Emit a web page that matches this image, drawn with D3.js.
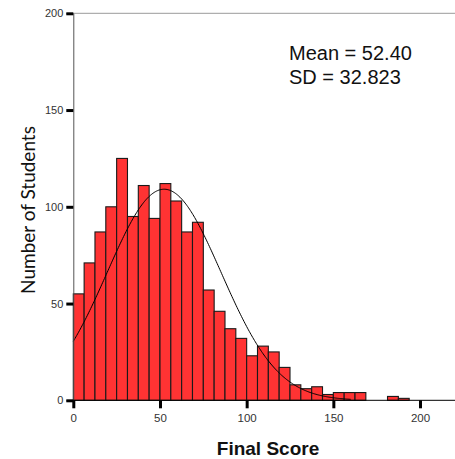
<!DOCTYPE html>
<html>
<head>
<meta charset="utf-8">
<script src="https://cdn.jsdelivr.net/npm/d3@7"></script>
<style>
  html, body { margin: 0; padding: 0; background: #fff; }
  svg { display: block; }
</style>
</head>
<body>
<svg id="chart" width="455" height="459"></svg>
<script>
// Histogram of final scores, bins of 6.25 points starting at 0
const binWidth = 6.25;
const counts = [55, 71, 87, 100, 125, 95, 111, 94, 112, 103, 87, 92, 57, 46, 37, 32,
                23, 28, 25, 17, 8, 6, 7, 3, 4, 4, 4, 0, 0, 2, 1];
const xTicks = [0, 50, 100, 150, 200];
const yTicks = [0, 50, 100, 150, 200];
const mean = 52.40;
const sd = 32.823;
const statLines = ["Mean = 52.40", "SD = 32.823"];

const svg = d3.select("#chart");

const x = d3.scaleLinear().domain([0, 220]).range([73.3, 454.7]);
const y = d3.scaleLinear().domain([0, 200]).range([400.3, 13.3]);

// top frame line
svg.append("line")
  .attr("x1", x(0)).attr("x2", 455)
  .attr("y1", y(200)).attr("y2", y(200))
  .attr("stroke", "#9a9a9a").attr("stroke-width", 1);

// bars
const bins = counts.map((c, i) => ({ x0: i * binWidth, x1: (i + 1) * binWidth, n: c }));
svg.append("g").selectAll("rect")
  .data(bins.filter(d => d.n > 0))
  .join("rect")
  .attr("x", d => x(d.x0))
  .attr("width", d => x(d.x1) - x(d.x0))
  .attr("y", d => y(d.n))
  .attr("height", d => y(0) - y(d.n))
  .attr("fill", "#ff3333")
  .attr("stroke", "#1a1a1a")
  .attr("stroke-width", 1.1);

// fitted normal curve scaled to the histogram
const total = d3.sum(counts);
const pdf = v => Math.exp(-0.5 * ((v - mean) / sd) ** 2) / (sd * Math.sqrt(2 * Math.PI));
const curvePts = d3.range(0, 160.01, 0.5).map(v => [v, total * binWidth * pdf(v)]);
svg.append("path")
  .datum(curvePts)
  .attr("fill", "none")
  .attr("stroke", "#000")
  .attr("stroke-width", 1)
  .attr("d", d3.line().x(d => x(d[0])).y(d => y(d[1])));

// y axis
const yAxis = svg.append("g").attr("transform", `translate(${x(0)},0)`)
  .call(d3.axisLeft(y).tickValues(yTicks).tickSize(7).tickPadding(3).tickFormat(d3.format("d")));
yAxis.select(".domain").attr("stroke", "#555").attr("stroke-width", 1);
yAxis.selectAll(".tick line").attr("stroke", "#000").attr("stroke-width", 3);
yAxis.selectAll(".tick text").attr("font-family", "Liberation Sans, Arial, sans-serif")
  .attr("font-size", 11).attr("fill", "#333");

// x axis
const xAxis = svg.append("g").attr("transform", `translate(0,${y(0)})`)
  .call(d3.axisBottom(x).tickValues(xTicks).tickSize(8).tickPadding(6).tickFormat(d3.format("d")));
xAxis.select(".domain").attr("stroke", "#000").attr("stroke-width", 1)
  .attr("d", `M${x(0)},0H455`);
xAxis.selectAll(".tick line").attr("stroke", "#000").attr("stroke-width", 3);
xAxis.selectAll(".tick text").attr("font-family", "Liberation Sans, Arial, sans-serif")
  .attr("font-size", 11.5).attr("fill", "#333");

// axis titles
svg.append("text")
  .attr("transform", "translate(35,210) rotate(-90)")
  .attr("text-anchor", "middle")
  .attr("font-family", "Lato, 'Open Sans', sans-serif")
  .attr("font-size", 19)
  .attr("fill", "#111")
  .text("Number of Students");

svg.append("text")
  .attr("x", 268).attr("y", 455)
  .attr("text-anchor", "middle")
  .attr("font-family", "Liberation Sans, Arial, sans-serif")
  .attr("font-weight", "bold")
  .attr("font-size", 19)
  .attr("fill", "#111")
  .text("Final Score");

// summary statistics
svg.append("g").selectAll("text")
  .data(statLines)
  .join("text")
  .attr("x", 289)
  .attr("y", (d, i) => 60 + i * 24)
  .attr("font-family", "Liberation Sans, Arial, sans-serif")
  .attr("font-size", 20)
  .attr("fill", "#111")
  .text(d => d);
</script>
</body>
</html>
